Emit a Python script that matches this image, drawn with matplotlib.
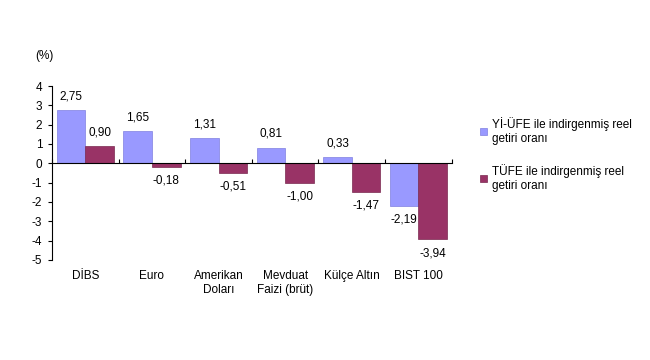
import matplotlib.pyplot as plt
import numpy as np

categories = ["DİBS", "Euro", "Amerikan\nDoları", "Mevduat\nFaizi (brüt)", "Külçe Altın", "BIST 100"]
yi_ufe = [2.75, 1.65, 1.31, 0.81, 0.33, -2.19]
tufe = [0.90, -0.18, -0.51, -1.00, -1.47, -3.94]
series_names = ["Yİ-ÜFE ile indirgenmiş reel\ngetiri oranı", "TÜFE ile indirgenmiş reel\ngetiri oranı"]
yticks = list(range(-5, 5))

plt.rcParams['font.family'] = ['Liberation Sans', 'DejaVu Sans']

fig = plt.figure(figsize=(6.5, 3.6), dpi=100)
ax = fig.add_axes([0.08, 0.278, 0.615, 0.483])

x = np.arange(len(categories))
w = 0.43
c1, c2 = "#9999FF", "#993366"
b1 = ax.bar(x - w / 2, yi_ufe, w, color=c1, edgecolor="#8080e0", linewidth=0.5, label=series_names[0])
b2 = ax.bar(x + w / 2, tufe, w, color=c2, edgecolor="#7a2850", linewidth=0.5, label=series_names[1])

def fmt(v):
    return f"{v:.2f}".replace(".", ",")

for bars, vals in ((b1, yi_ufe), (b2, tufe)):
    for b, v in zip(bars, vals):
        cx = b.get_x() + b.get_width() / 2
        if v >= 0:
            ax.text(cx, v + 0.4, fmt(v), ha="center", va="bottom", fontsize=8.5)
        else:
            ax.text(cx, v - 0.4, fmt(v), ha="center", va="top", fontsize=8.5)

ax.set_xlim(-0.5, len(categories) - 0.5)
ax.set_ylim(-5, 4)
ax.set_yticks(yticks)
ax.set_yticklabels([str(t) for t in yticks], fontsize=8.5)
ax.tick_params(axis="y", length=3, width=0.8, pad=4)

ax.spines["top"].set_visible(False)
ax.spines["right"].set_visible(False)
ax.spines["bottom"].set_position(("data", 0))
ax.set_xticks(np.arange(len(categories) + 1) - 0.5)
ax.set_xticklabels([])
ax.tick_params(axis="x", direction="in", length=3, width=0.8)

for i, c in enumerate(categories):
    ax.text(i, -0.06, c, transform=ax.get_xaxis_transform(), ha="center", va="top", fontsize=8.5)

fig.text(0.055, 0.845, "(%)", fontsize=8.5, ha="left", va="center")

ax.legend(loc="upper left", bbox_to_anchor=(1.045, 0.88), frameon=False, fontsize=8.5,
          handlelength=0.6, handleheight=0.6, handletextpad=0.4, labelspacing=1.6)

fig.savefig("out.png", dpi=100)
